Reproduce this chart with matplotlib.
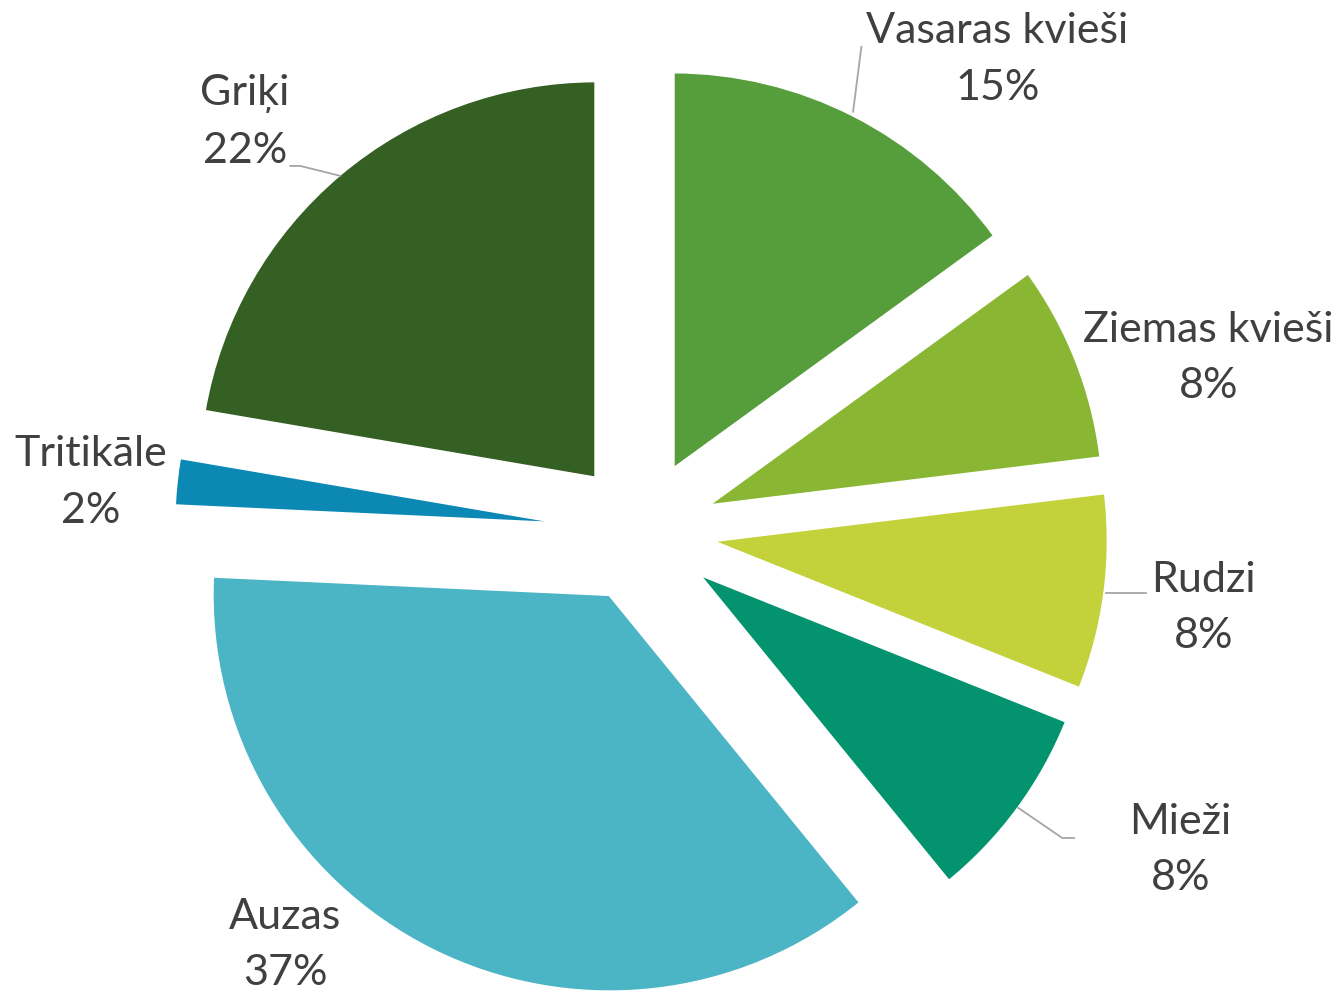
import matplotlib.pyplot as plt

# data
labels = ['Vasaras kvieši', 'Ziemas kvieši', 'Rudzi', 'Mieži', 'Auzas', 'Tritikāle', 'Griķi']
shares = [15.0, 8.05, 8.0, 8.05, 36.6, 1.95, 22.3]
colors = ['#559E3B', '#8AB733', '#C3D13B', '#03946F', '#4BB4C5', '#0C88B5', '#346024']

# layout (data units, pie radius = 1)
label_pos = [(0.899, 1.192), (1.432, 0.439), (1.419, -0.192), (1.361, -0.803),
             (-0.899, -1.043), (-1.391, 0.124), (-1.0, 1.035)]
leaders = [
    [(0.535, 1.061), (0.556, 1.225)],
    [(-0.760, 0.899), (-0.861, 0.924), (-0.886, 0.924)],
    [(1.174, -0.154), (1.275, -0.154)],
    [(0.952, -0.697), (1.063, -0.773), (1.093, -0.773)],
]

plt.rcParams['font.family'] = ['Lato', 'DejaVu Sans']

fig = plt.figure(figsize=(13.43, 9.92), dpi=100)
ax = fig.add_axes([0, 0, 1, 1])
ax.pie(shares, colors=colors, startangle=90, counterclock=False,
       explode=[0.177] * len(shares), radius=1.004,
       wedgeprops={'linewidth': 2.4, 'edgecolor': 'white'})

for lab, val, (x, y) in zip(labels, shares, label_pos):
    ax.text(x, y, '%s\n%d%%' % (lab, round(val)), ha='center', va='center',
            fontsize=31, color='#404040', linespacing=1.6)

for pts in leaders:
    xs = [p[0] for p in pts]
    ys = [p[1] for p in pts]
    ax.plot(xs, ys, color='#A6A6A6', lw=1.3)

ax.set_xlim(-1.619, 1.772)
ax.set_ylim(-1.162, 1.343)
ax.set_aspect('auto')
ax.axis('off')

plt.savefig('out.png', dpi=100)
